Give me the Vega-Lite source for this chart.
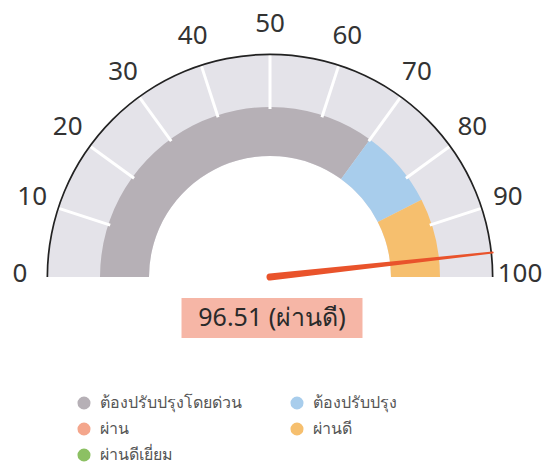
{
  "$schema": "https://vega.github.io/schema/vega-lite/v6.json",
  "width": 540,
  "height": 554,
  "padding": {"left": 0, "top": 0, "right": 10, "bottom": 0},
  "autosize": {"type": "none"},
  "background": "white",
  "config": {"view": {"stroke": null}, "font": "Noto Sans"},
  "datasets": {
    "bands": [
      {"category": "ต้องปรับปรุงโดยด่วน", "start": 0, "end": 70},
      {"category": "ต้องปรับปรุง", "start": 70, "end": 85},
      {"category": "ผ่านดี", "start": 85, "end": 100}
    ],
    "ticks": [
      {"v": 10}, {"v": 20}, {"v": 30}, {"v": 40}, {"v": 50},
      {"v": 60}, {"v": 70}, {"v": 80}, {"v": 90}
    ],
    "labels": [
      {"v": 0}, {"v": 10}, {"v": 20}, {"v": 30}, {"v": 40}, {"v": 50},
      {"v": 60}, {"v": 70}, {"v": 80}, {"v": 90}, {"v": 100}
    ],
    "needle": [
      {"value": 96.51, "tip": 0},
      {"value": 96.51, "tip": 1}
    ],
    "reading": [
      {"value": 96.51, "status": "ผ่านดี", "label": "96.51 (ผ่านดี)"}
    ]
  },
  "layer": [
    {
      "data": {"values": [{"a": 0, "b": 100}]},
      "mark": {"type": "arc", "radius": 223, "radius2": 121, "color": "#E4E3E9"},
      "encoding": {
        "theta": {"field": "a", "type": "quantitative", "stack": null, "scale": {"domain": [0, 100], "range": [-1.5707963, 1.5707963]}},
        "theta2": {"field": "b"}
      }
    },
    {
      "data": {"name": "bands"},
      "mark": {"type": "arc", "radius": 170, "radius2": 121},
      "encoding": {
        "theta": {"field": "start", "type": "quantitative", "stack": null},
        "theta2": {"field": "end"},
        "color": {
          "field": "category",
          "type": "nominal",
          "scale": {
            "domain": ["ต้องปรับปรุงโดยด่วน", "ผ่าน", "ผ่านดีเยี่ยม", "ต้องปรับปรุง", "ผ่านดี"],
            "range": ["#B6B0B6", "#F4A68C", "#8CC063", "#A8CDEC", "#F6BF6E"]
          },
          "legend": {
            "title": null,
            "orient": "none",
            "legendX": 76,
            "legendY": 395,
            "columns": 2,
            "columnPadding": 47,
            "rowPadding": 10,
            "symbolType": "circle",
            "symbolSize": 170,
            "symbolStrokeWidth": 0,
            "symbolOpacity": 1,
            "labelFontSize": 16,
            "labelColor": "#555555",
            "labelOffset": 8,
            "padding": 0
          }
        }
      }
    },
    {
      "data": {"name": "ticks"},
      "mark": {"type": "arc", "radius": 222, "radius2": 168, "stroke": "white", "strokeWidth": 3, "fill": null},
      "encoding": {
        "theta": {"field": "v", "type": "quantitative", "stack": null},
        "theta2": {"field": "v"}
      }
    },
    {
      "data": {"values": [{"a": 0, "b": 100}]},
      "mark": {"type": "arc", "radius": 223.5, "radius2": 221.8, "color": "#222222"},
      "encoding": {
        "theta": {"field": "a", "type": "quantitative", "stack": null},
        "theta2": {"field": "b"}
      }
    },
    {
      "data": {"name": "labels"},
      "mark": {"type": "text", "radius": 250, "dy": -3, "fontSize": 26, "color": "#333333", "align": "center", "baseline": "middle"},
      "encoding": {
        "theta": {"field": "v", "type": "quantitative", "stack": null},
        "text": {"field": "v", "type": "quantitative"}
      }
    },
    {
      "data": {"name": "needle"},
      "transform": [
        {"calculate": "datum.tip * 224 * cos(PI * (1 - datum.value / 100))", "as": "nx"},
        {"calculate": "datum.tip * 224 * sin(PI * (1 - datum.value / 100))", "as": "ny"}
      ],
      "mark": {"type": "trail", "color": "#E9532B"},
      "encoding": {
        "x": {"field": "nx", "type": "quantitative", "axis": null, "scale": {"domain": [-270, 270], "nice": false, "zero": false}},
        "y": {"field": "ny", "type": "quantitative", "axis": null, "scale": {"domain": [-277, 277], "nice": false, "zero": false}},
        "order": {"field": "tip"},
        "size": {"field": "tip", "type": "quantitative", "legend": null, "scale": {"domain": [0, 1], "range": [7, 2]}}
      }
    },
    {
      "data": {"name": "reading"},
      "mark": {"type": "rect", "width": 181, "height": 40, "color": "#F5B2A1", "opacity": 0.95},
      "encoding": {
        "x": {"datum": 2, "type": "quantitative"},
        "y": {"datum": -41, "type": "quantitative"}
      }
    },
    {
      "data": {"name": "reading"},
      "mark": {"type": "text", "fontSize": 25, "color": "#2A2A2A", "align": "center", "baseline": "middle"},
      "encoding": {
        "x": {"datum": 2, "type": "quantitative"},
        "y": {"datum": -41, "type": "quantitative"},
        "text": {"field": "label"}
      }
    }
  ]
}
